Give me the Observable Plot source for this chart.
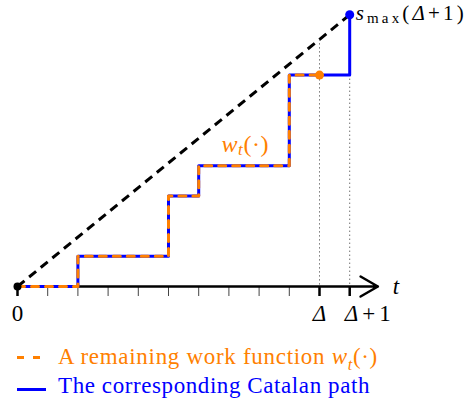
<!DOCTYPE html>
<html><head><meta charset="utf-8">
<script src="https://cdn.jsdelivr.net/npm/d3@7"></script>
<script src="https://cdn.jsdelivr.net/npm/@observablehq/plot@0.6"></script>
<style>
body{margin:0;background:#fff;}
#chart{width:469px;}
#chart svg{overflow:visible;display:block;}
.legend{font-family:"Liberation Serif",serif;font-size:23px;margin-top:7px;}
.row{height:29px;line-height:29px;white-space:nowrap;position:relative;}
.sw{position:absolute;left:17px;height:3px;}
.lab{position:absolute;left:58px;top:0;}
.lab sub{font-size:0.7em;line-height:0;}
</style></head><body>
<div id="chart"></div>
<div class="legend" id="legend"></div>
<script>
// Catalan path (time t, value s)
const pathT = [0, 2, 2, 5, 5, 6, 6, 9, 9, 11, 11];
const pathS = [0, 0, 1, 1, 3, 3, 4, 4, 7, 7, 9];
// Remaining work function w_t(.)
const workT = [0, 2, 2, 5, 5, 6, 6, 9, 9, 10];
const workS = [0, 0, 1, 1, 3, 3, 4, 4, 7, 7];
const tickValues = [0, 1, 2, 3, 4, 5, 6, 7, 8, 9, 10, 11];
const majorTicks = [0, 10, 11];
const tickLabels = ["0", "Δ", "Δ+1"];
const deltaT = 10;
const smax = {t: 11, s: 9};
const workEnd = {t: 10, s: 7};
const axisEndT = 12;
const wLabelPos = {t: 7.5, s: 4};
const legendLabels = ["A remaining work function", "The corresponding Catalan path"];

const blue = "#0000ff", orange = "#ff8000";
const pathData = pathT.map((t, i) => ({t, s: pathS[i]}));
const workData = workT.map((t, i) => ({t, s: workS[i]}));
const minorTicks = tickValues.filter(v => !majorTicks.includes(v));
const diagAtDelta = smax.s * deltaT / smax.t;

const plot = Plot.plot({
  width: 469, height: 335,
  marginLeft: 17, marginRight: 89.6, marginTop: 14.2, marginBottom: 49,
  x: {domain: [0, axisEndT], axis: null},
  y: {domain: [0, 9], axis: null},
  style: {fontFamily: "Liberation Serif, serif", fontSize: "23px", background: "white", overflow: "visible"},
  marks: [
    Plot.link([{x1: 0, y1: 0, x2: smax.t, y2: smax.s}], {x1: "x1", y1: "y1", x2: "x2", y2: "y2", stroke: "black", strokeWidth: 3, strokeDasharray: "9,6"}),
    Plot.link([{t: deltaT, a: diagAtDelta}], {x1: "t", x2: "t", y1: "a", y2: 0, stroke: "#333", strokeWidth: 1, strokeDasharray: "1,3"}),
    Plot.link([smax], {x1: "t", x2: "t", y1: "s", y2: 0, stroke: "#333", strokeWidth: 1, strokeDasharray: "1,3"}),
    Plot.axisX({ticks: minorTicks, tickSize: 10, tickFormat: () => "", stroke: "#444", strokeWidth: 1}),
    Plot.axisX({ticks: majorTicks, tickSize: 10, tickFormat: () => "", stroke: "black", strokeWidth: 2.5}),
    Plot.arrow([{x1: 0, x2: axisEndT}], {x1: "x1", x2: "x2", y1: 0, y2: 0, stroke: "black", strokeWidth: 2.5, headLength: 12, insetEnd: 2}),
    Plot.line(pathData, {x: "t", y: "s", stroke: blue, strokeWidth: 3, curve: "linear"}),
    Plot.line(workData, {x: "t", y: "s", stroke: orange, strokeWidth: 3, strokeDasharray: "7,7"}),
    Plot.dot([{t: 0, s: 0}], {x: "t", y: "s", r: 4, fill: "black"}),
    Plot.dot([workEnd], {x: "t", y: "s", r: 4.5, fill: orange}),
    Plot.dot([smax], {x: "t", y: "s", r: 4.5, fill: blue}),
    Plot.text([smax], {x: "t", y: "s", text: () => "smax(Δ+1)", textAnchor: "start", dx: 6, dy: -1, fontSize: 21, fill: "black"}),
    Plot.text([wLabelPos], {x: "t", y: "s", text: () => "wt(·)", dx: 1, dy: -21, fontSize: 24, fill: orange}),
    Plot.text([{t: axisEndT, s: 0}], {x: "t", y: "s", text: () => "t", dx: 16, fill: "black"}),
    Plot.text(majorTicks.slice(0, 2), {x: d => d, y: 0, text: (d, i) => tickLabels[i], dy: 27.6, fill: "black"}),
    Plot.text(majorTicks.slice(2), {x: d => d, y: 0, text: (d, i) => tickLabels[i + 2], dy: 27.6, dx: -5, textAnchor: "start", fill: "black"})
  ]
});

const rich = {
  "smax(Δ+1)": {segs: [["s", "i"], ["max", "sub"], ["(", ""], ["Δ", "i"], ["+1)", ""]], len: 108, sub: 15},
  "wt(·)": {segs: [["w", "i"], ["t", "isub"], ["(·)", ""]], len: 47, sub: 17},
  "Δ+1": {segs: [["Δ", "i"], ["+1", ""]], len: 46},
  "Δ": {segs: [["Δ", "i"]]},
  "t": {segs: [["t", "i"]]}
};
d3.select(plot).selectAll("text").each(function() {
  const spec = rich[this.textContent];
  if (!spec) return;
  const el = d3.select(this);
  el.text(null);
  let cur = 0;
  for (const [txt, st] of spec.segs) {
    const sp = el.append("tspan").text(txt);
    if (st.includes("i")) sp.attr("font-style", "italic");
    const target = st.includes("sub") ? 3 : 0;
    if (st.includes("sub")) sp.attr("font-size", spec.sub + "px");
    if (target !== cur) { sp.attr("dy", target - cur); cur = target; }
  }
  if (spec.len) el.attr("textLength", spec.len).attr("lengthAdjust", "spacing");
});
document.getElementById("chart").appendChild(plot);

document.getElementById("legend").innerHTML =
  `<div class="row"><span class="sw" style="top:14px;width:23px;background:linear-gradient(to right,${orange} 0 7px,transparent 7px 16px,${orange} 16px 23px)"></span>` +
  `<span class="lab" data-w="320" style="color:${orange}">${legendLabels[0]} <i>w</i><sub><i>t</i></sub>(·)</span></div>` +
  `<div class="row"><span class="sw" style="top:17px;width:29px;background:${blue}"></span>` +
  `<span class="lab" data-w="312" style="color:${blue}">${legendLabels[1]}</span></div>`;
document.querySelectorAll(".lab").forEach(el => {
  const n = el.textContent.length;
  const w = el.getBoundingClientRect().width;
  el.style.letterSpacing = ((+el.dataset.w - w) / n) + "px";
});
</script>
</body></html>
